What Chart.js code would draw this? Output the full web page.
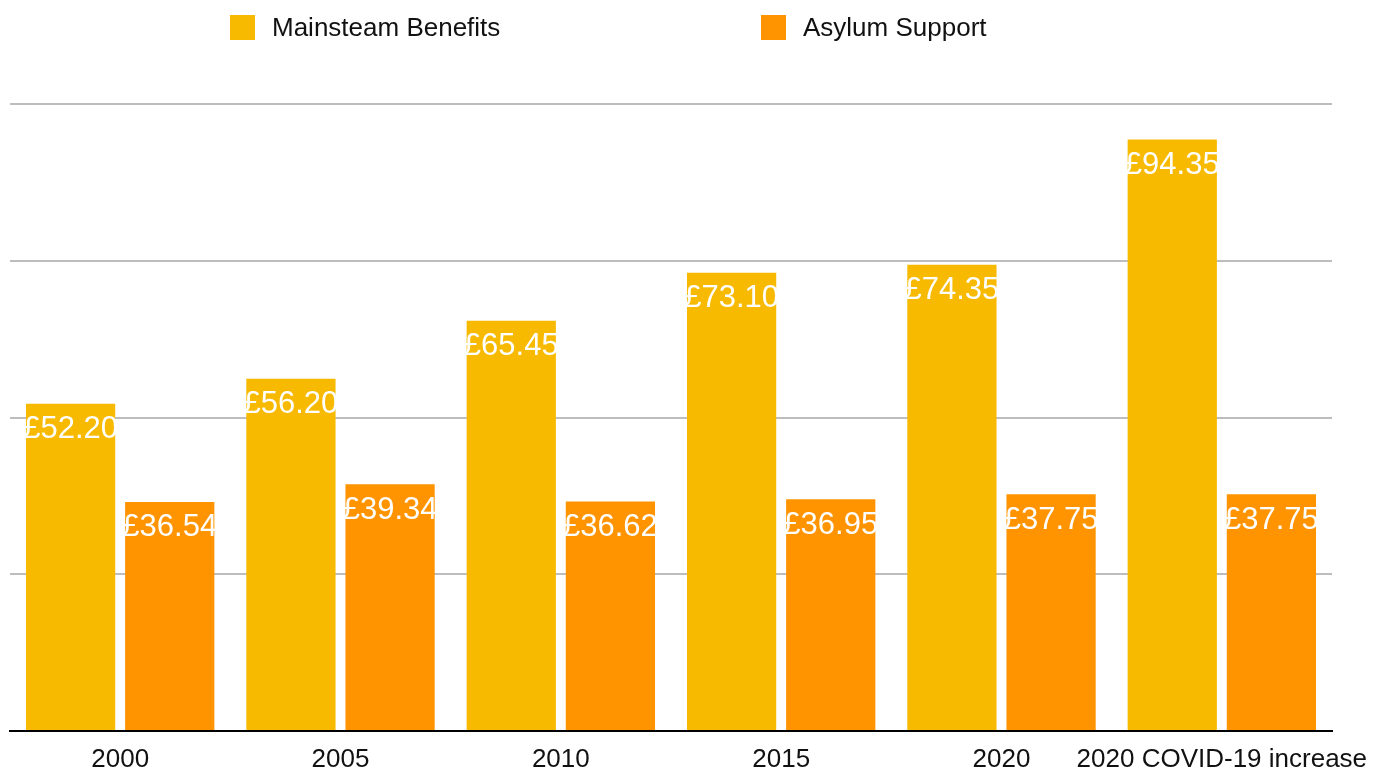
<!DOCTYPE html>
<html>
<head>
<meta charset="utf-8">
<script src="https://cdn.jsdelivr.net/npm/chart.js@4"></script>
<style>
  html, body { margin: 0; padding: 0; background: #fff; }
  #wrap { width: 1382px; height: 769px; }
</style>
</head>
<body>
<div id="wrap"><canvas id="myChart"></canvas></div>
<script>
// chart data
const categories = ["2000", "2005", "2010", "2015", "2020", "2020 COVID-19 increase"];
const mainstreamBenefits = [52.20, 56.20, 65.45, 73.10, 74.35, 94.35];
const asylumSupport = [36.54, 39.34, 36.62, 36.95, 37.75, 37.75];
const seriesNames = ["Mainsteam Benefits", "Asylum Support"];

const FONT = "Helvetica, 'Liberation Sans', Arial, sans-serif";
Chart.defaults.font.family = FONT;

// white value labels just under the top of each bar
const valueLabels = {
  id: "valueLabels",
  afterDatasetsDraw(chart) {
    const ctx = chart.ctx;
    ctx.save();
    ctx.fillStyle = "#ffffff";
    ctx.font = "31px " + FONT;
    ctx.textAlign = "center";
    ctx.textBaseline = "middle";
    chart.data.datasets.forEach((ds, i) => {
      chart.getDatasetMeta(i).data.forEach((bar, j) => {
        ctx.fillText("£" + ds.data[j].toFixed(2), bar.x, bar.y + 26);
      });
    });
    ctx.restore();
  }
};

// legend spread out over the top, like the original
const topLegend = {
  id: "topLegend",
  afterDraw(chart) {
    const ctx = chart.ctx;
    const starts = [230, 761];
    ctx.save();
    ctx.font = "26px " + FONT;
    ctx.textBaseline = "middle";
    chart.data.datasets.forEach((ds, i) => {
      ctx.fillStyle = ds.backgroundColor;
      ctx.fillRect(starts[i], 15, 25, 25);
      ctx.fillStyle = "#111111";
      ctx.fillText(ds.label, starts[i] + 42, 29);
    });
    ctx.restore();
  }
};

const ctx = document.getElementById("myChart").getContext("2d");

new Chart(ctx, {
  type: "bar",
  data: {
    labels: categories,
    datasets: [
      {
        label: seriesNames[0],
        data: mainstreamBenefits,
        backgroundColor: "#F7BA00",
        categoryPercentage: 0.9,
        barPercentage: 0.9,
      },
      {
        label: seriesNames[1],
        data: asylumSupport,
        backgroundColor: "#FF9400",
        categoryPercentage: 0.9,
        barPercentage: 0.9,
      },
    ],
  },
  options: {
    responsive: true,
    maintainAspectRatio: false,
    animation: false,
    layout: {
      padding: { top: 104, left: 10, right: 50, bottom: 0 },
    },
    plugins: {
      legend: { display: false },
      tooltip: { enabled: false },
    },
    scales: {
      x: {
        z: 1,
        grid: { display: false, drawTicks: false },
        border: { color: "#000000", width: 2 },
        ticks: {
          color: "#111111",
          font: { size: 26, lineHeight: 0.8 },
          padding: 18,
          maxRotation: 0,
          autoSkip: false,
        },
        afterFit(scale) {
          // the long last label may hang past the plot, as in the original
          scale.paddingLeft = 0;
          scale.paddingRight = 0;
          scale.height = 38;
        },
      },
      y: {
        min: 0,
        max: 100,
        ticks: { display: false, stepSize: 25 },
        grid: { color: "#BDBDBD", lineWidth: 2, drawTicks: false },
        border: { display: false },
      },
    },
  },
  plugins: [valueLabels, topLegend],
});
</script>
</body>
</html>
